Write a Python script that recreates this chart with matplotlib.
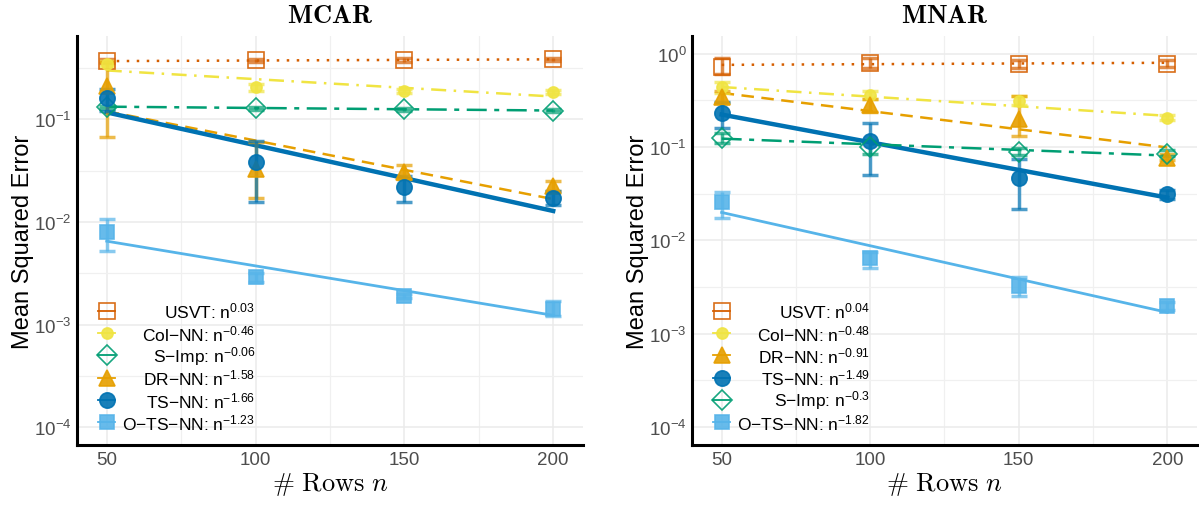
import matplotlib
matplotlib.use("Agg")
import matplotlib.pyplot as plt
from matplotlib.ticker import LogLocator, FixedLocator

plt.rcParams['font.family'] = ['Liberation Sans', 'DejaVu Sans']
plt.rcParams['mathtext.fontset'] = 'custom'
plt.rcParams['mathtext.rm'] = 'Liberation Sans'
plt.rcParams['mathtext.it'] = 'Liberation Sans:italic'
plt.rcParams['mathtext.bf'] = 'Liberation Sans:bold'

rows = [50, 100, 150, 200]
fit_x = [50, 200]

# ---- MCAR ----
mcar_mean = {
    'USVT':    [0.370, 0.375, 0.380, 0.385],
    'Col-NN':  [0.350, 0.205, 0.190, 0.185],
    'S-Imp':   [0.131, 0.128, 0.125, 0.122],
    'DR-NN':   [0.210, 0.033, 0.031, 0.0224],
    'TS-NN':   [0.163, 0.038, 0.0219, 0.0171],
    'O-TS-NN': [0.0080, 0.0029, 0.0019, 0.00143],
}
mcar_lo = {
    'USVT':    [0.355, 0.360, 0.365, 0.370],
    'Col-NN':  [0.330, 0.190, 0.180, 0.175],
    'S-Imp':   [0.126, 0.123, 0.120, 0.118],
    'DR-NN':   [0.068, 0.017, 0.026, 0.020],
    'TS-NN':   [0.120, 0.0155, 0.0156, 0.0145],
    'O-TS-NN': [0.0052, 0.0026, 0.0018, 0.0012],
}
mcar_hi = {
    'USVT':    [0.390, 0.390, 0.400, 0.400],
    'Col-NN':  [0.370, 0.220, 0.200, 0.195],
    'S-Imp':   [0.136, 0.133, 0.130, 0.126],
    'DR-NN':   [0.360, 0.060, 0.036, 0.025],
    'TS-NN':   [0.200, 0.061, 0.028, 0.020],
    'O-TS-NN': [0.0107, 0.0032, 0.0020, 0.0017],
}
mcar_fit = {
    'USVT':    [0.370, 0.385],
    'Col-NN':  [0.300, 0.167],
    'S-Imp':   [0.133, 0.122],
    'DR-NN':   [0.120, 0.0167],
    'TS-NN':   [0.117, 0.0128],
    'O-TS-NN': [0.0065, 0.00123],
}
mcar_rate = {'USVT': '0.03', 'Col-NN': '-0.46', 'S-Imp': '-0.06',
             'DR-NN': '-1.58', 'TS-NN': '-1.66', 'O-TS-NN': '-1.23'}
mcar_order = ['USVT', 'Col-NN', 'S-Imp', 'DR-NN', 'TS-NN', 'O-TS-NN']

# ---- MNAR ----
mnar_mean = {
    'USVT':    [0.726, 0.800, 0.780, 0.780],
    'Col-NN':  [0.440, 0.365, 0.314, 0.207],
    'DR-NN':   [0.347, 0.285, 0.200, 0.077],
    'TS-NN':   [0.234, 0.117, 0.047, 0.031],
    'S-Imp':   [0.126, 0.099, 0.089, 0.085],
    'O-TS-NN': [0.0256, 0.0064, 0.0032, 0.0020],
}
mnar_lo = {
    'USVT':    [0.600, 0.700, 0.700, 0.720],
    'Col-NN':  [0.380, 0.330, 0.280, 0.195],
    'DR-NN':   [0.300, 0.240, 0.130, 0.072],
    'TS-NN':   [0.160, 0.050, 0.0215, 0.028],
    'S-Imp':   [0.110, 0.085, 0.082, 0.080],
    'O-TS-NN': [0.0172, 0.0050, 0.0025, 0.0018],
}
mnar_hi = {
    'USVT':    [0.900, 0.900, 0.860, 0.850],
    'Col-NN':  [0.500, 0.400, 0.350, 0.220],
    'DR-NN':   [0.400, 0.330, 0.350, 0.085],
    'TS-NN':   [0.307, 0.183, 0.074, 0.035],
    'S-Imp':   [0.140, 0.115, 0.098, 0.092],
    'O-TS-NN': [0.0328, 0.0075, 0.0040, 0.0022],
}
mnar_fit = {
    'USVT':    [0.760, 0.800],
    'Col-NN':  [0.440, 0.216],
    'DR-NN':   [0.380, 0.099],
    'TS-NN':   [0.223, 0.0287],
    'S-Imp':   [0.123, 0.081],
    'O-TS-NN': [0.0199, 0.00169],
}
mnar_rate = {'USVT': '0.04', 'Col-NN': '-0.48', 'DR-NN': '-0.91',
             'TS-NN': '-1.49', 'S-Imp': '-0.3', 'O-TS-NN': '-1.82'}
mnar_order = ['USVT', 'Col-NN', 'DR-NN', 'TS-NN', 'S-Imp', 'O-TS-NN']

# method styles
style = {
    'USVT':    dict(color='#D55E00', marker='s', ms=11, fill=False, ls=(0, (1, 3)), lw=1.8),
    'Col-NN':  dict(color='#F0E442', marker='o', ms=8, fill=True, ls=(0, (6, 3, 1, 3)), lw=1.8),
    'S-Imp':   dict(color='#009E73', marker='D', ms=10, fill=False, ls=(0, (8, 3, 2, 3)), lw=1.8),
    'DR-NN':   dict(color='#E69F00', marker='^', ms=12, fill=True, ls=(0, (5, 3)), lw=1.8),
    'TS-NN':   dict(color='#0072B2', marker='o', ms=11, fill=True, ls='-', lw=3.2),
    'O-TS-NN': dict(color='#56B4E9', marker='s', ms=10, fill=True, ls='-', lw=2.0),
}

fig = plt.figure(figsize=(11.99, 5.06), dpi=100)
ax1 = fig.add_axes([0.0642, 0.1186, 0.422, 0.8083])
ax2 = fig.add_axes([0.5771, 0.1186, 0.4212, 0.8083])


def panel(ax, title, mean, lo, hi, fit, rate, order, ylim, leg_right):
    for m in order:
        s = style[m]
        c = s['color']
        ax.plot(fit_x, fit[m], color=c, ls=s['ls'], lw=s['lw'], zorder=3)
        yerr = [[a - b for a, b in zip(mean[m], lo[m])],
                [b - a for a, b in zip(mean[m], hi[m])]]
        ax.errorbar(rows, mean[m], yerr=yerr, fmt='none', ecolor=c, alpha=0.7,
                    elinewidth=2.5, capsize=5.5, capthick=2.5, zorder=4)
        ax.plot(rows, mean[m], ls='none', marker=s['marker'], ms=s['ms'],
                mfc=c if s['fill'] else 'none', mec=c, mew=1.2,
                alpha=0.9, zorder=5)

    ax.set_yscale('log')
    ax.set_xlim(40, 210)
    ax.set_ylim(*ylim)
    ax.set_xticks(rows)
    ax.xaxis.set_minor_locator(FixedLocator([75, 125, 175]))
    ax.yaxis.set_major_locator(LogLocator(base=10, numticks=10))
    ax.yaxis.set_minor_locator(FixedLocator([10 ** (k + 0.5) for k in range(-5, 1)]))
    ax.grid(True, which='major', color='#ebebeb', lw=1.1)
    ax.grid(True, which='minor', color='#f0f0f0', lw=0.9)
    ax.set_axisbelow(True)
    for sp in ['top', 'right']:
        ax.spines[sp].set_visible(False)
    for sp in ['left', 'bottom']:
        ax.spines[sp].set_linewidth(2.2)
    ax.tick_params(which='both', length=0, labelsize=13.5, labelcolor='#4d4d4d', pad=4)
    ax.set_title(r'$\mathbf{' + title + '}$', math_fontfamily='cm', fontsize=19, pad=10)
    ax.set_xlabel(r'$\#\ \mathrm{Rows}\ n$', math_fontfamily='cm', fontsize=19, labelpad=2)
    ax.set_ylabel('Mean Squared Error', fontsize=17, labelpad=0)

    # legend drawn by hand: markers in a column, labels right-aligned
    for i, m in enumerate(order):
        s = style[m]
        c = s['color']
        yy = 0.328 - i * 0.0545
        ax.plot([0.042, 0.076], [yy, yy], color=c, lw=1.3, transform=ax.transAxes,
                clip_on=False, zorder=6)
        ax.plot([0.059], [yy], ls='none', marker=s['marker'], ms=s['ms'],
                mfc=c if s['fill'] else 'none', mec=c, mew=1.2, alpha=0.9,
                transform=ax.transAxes, clip_on=False, zorder=6)
        r = rate[m].replace('-', '{-}')
        ax.text(leg_right, yy, m.replace('-', '\u2212') + ': n$^{' + r + '}$',
                transform=ax.transAxes, ha='right', va='center', fontsize=12.5,
                zorder=7)


panel(ax1, 'MCAR', mcar_mean, mcar_lo, mcar_hi, mcar_fit, mcar_rate, mcar_order,
      (6.7e-5, 0.65), 0.352)
panel(ax2, 'MNAR', mnar_mean, mnar_lo, mnar_hi, mnar_fit, mnar_rate, mnar_order,
      (6.4e-5, 1.55), 0.352)

fig.savefig('out.png', dpi=100)
